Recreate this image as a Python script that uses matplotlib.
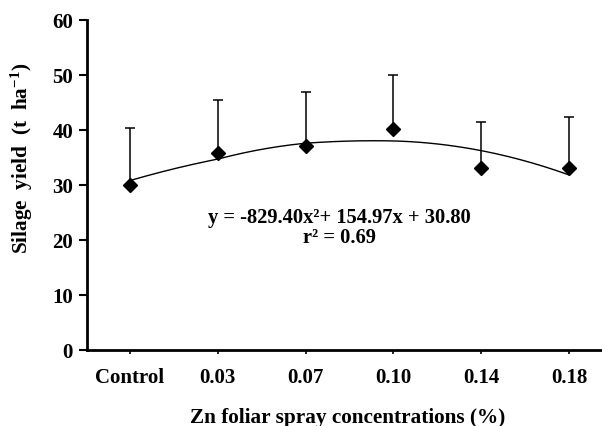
import numpy as np
import matplotlib.pyplot as plt

# silage yield per Zn foliar spray concentration
categories = ['Control', '0.03', '0.07', '0.10', '0.14', '0.18']
conc = [0.0, 0.03, 0.07, 0.10, 0.14, 0.18]
yield_mean = [30.0, 35.8, 37.0, 40.1, 33.0, 33.1]
yield_err = [10.3, 9.7, 9.9, 9.8, 8.5, 9.3]

# quadratic trend: y = a x^2 + b x + c
a, b, c = -829.40, 154.97, 30.80

plt.rcParams['font.family'] = ['Liberation Serif', 'DejaVu Serif']
plt.rcParams['font.weight'] = 'bold'
plt.rcParams['mathtext.fontset'] = 'custom'
plt.rcParams['mathtext.rm'] = 'Liberation Serif:bold'
plt.rcParams['mathtext.bf'] = 'Liberation Serif:bold'
plt.rcParams['mathtext.default'] = 'bf'

fig = plt.figure(figsize=(6.02, 4.27), dpi=100)
ax = fig.add_axes([0.1445, 0.178, 0.8555, 0.773])

pos = np.arange(len(categories))
ax.errorbar(pos, yield_mean, yerr=[np.zeros(len(yield_err)), yield_err],
            fmt='D', color='black', ms=7, ecolor='black', elinewidth=1.1,
            capsize=3.3, capthick=1.1, zorder=3)

# trend curve drawn across the category positions
xc = np.linspace(conc[0], conc[-1], 200)
yc = a * xc**2 + b * xc + c
ax.plot(np.interp(xc, conc, pos), yc, color='black', lw=1.0, zorder=2)

ax.text(2.39, 24.2, 'y = -829.40x\u00b2+ 154.97x + 30.80', ha='center', va='center',
        fontsize=14.8, fontweight='bold')
ax.text(2.39, 20.5, 'r\u00b2 = 0.69', ha='center', va='center',
        fontsize=14.8, fontweight='bold')

ax.set_xlim(-0.49, 5.376)
ax.set_ylim(0, 60)
ax.set_yticks(range(0, 61, 10))
ax.set_xticks(pos)
ax.set_xticklabels(categories)
ax.tick_params(axis='y', direction='out', length=6, width=1.5, labelsize=15, pad=4)
ax.tick_params(axis='x', direction='out', length=3, width=1.2, labelsize=15, pad=9)

for s in ['top', 'right']:
    ax.spines[s].set_visible(False)
for s in ['left', 'bottom']:
    ax.spines[s].set_linewidth(2)

fig.text(0.036, 0.628, 'Silage  yield  (t  ha$^{-1}$)', rotation=90,
         ha='center', va='center', fontsize=15.3, fontweight='bold')
fig.text(0.577, 0.0094, 'Zn foliar spray concentrations (%)',
         ha='center', va='baseline', fontsize=15.3, fontweight='bold')

fig.savefig('out.png', dpi=100)
